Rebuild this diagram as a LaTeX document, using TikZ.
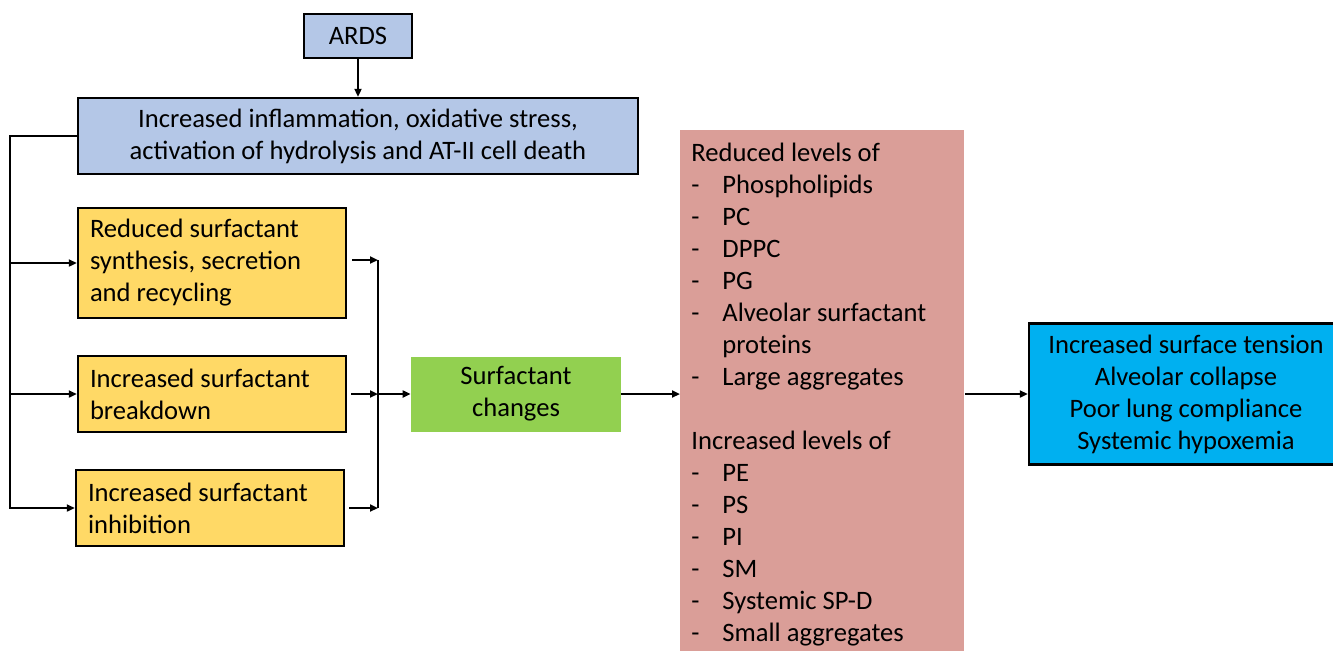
\documentclass[tikz,border=0pt]{standalone}
\usepackage{fontspec}
\setmainfont{Carlito}
\usetikzlibrary{arrows.meta}

\definecolor{ardsblue}{HTML}{B4C7E7}
\definecolor{mechyellow}{HTML}{FFD966}
\definecolor{changegreen}{HTML}{92D050}
\definecolor{levelpink}{HTML}{DA9E98}
\definecolor{outcyan}{HTML}{00B0F0}

\newcommand{\lvl}{\makebox[15.5pt][l]{-}}
\newcommand{\lvlcont}{\makebox[15.5pt]{}}

\begin{document}
\begin{tikzpicture}[x = 0.5pt, y = -0.5pt,
		every node/.style = {font=\fontsize{13.3}{16}\selectfont},
		box/.style = {draw, line width=1.2pt, inner sep=0pt, align=center},
		mech/.style = {box, fill=mechyellow, align=flush left, inner xsep=6pt, text width=122pt, minimum height=38pt},
		arr/.style = {line width=1pt, -{Triangle[length=4pt, width=3.5pt]}},
		line/.style = {line width=1pt}]
		\clip (0,0) rectangle (1333,650);
		\node [box, fill=ardsblue, minimum width=54pt, minimum height=22pt] (ards) at (358,36) {ARDS};
		\node [box, fill=ardsblue, minimum width=280pt, minimum height=38pt] (infl) at (358,136) {Increased inflammation, oxidative stress,\\activation of hydrolysis and AT-II cell death};
		\node [mech, minimum height=55pt] (y1) at (212,263) {Reduced surfactant\\synthesis, secretion\\and recycling};
		\node [mech] (y2) at (212,394) {Increased surfactant\\breakdown};
		\node [mech] (y3) at (210,508) {Increased surfactant\\inhibition};
		\node [fill=changegreen, inner sep=0pt, align=center, minimum width=105pt, minimum height=37.5pt] (chg) at (516,394) {Surfactant\\changes};
		\node [fill=levelpink, anchor=north west, align=flush left, inner xsep=5.5pt, inner ysep=6.5pt, text width=131pt] (lvls) at (680,130) {Reduced levels of\\
			\lvl Phospholipids\\
			\lvl PC\\
			\lvl DPPC\\
			\lvl PG\\
			\lvl Alveolar surfactant\\
			\lvlcont proteins\\
			\lvl Large aggregates\\[16pt]
			Increased levels of\\
			\lvl PE\\
			\lvl PS\\
			\lvl PI\\
			\lvl SM\\
			\lvl Systemic SP-D\\
			\lvl Small aggregates};
		\node [box, fill=outcyan, minimum width=157pt, minimum height=70.5pt] (out) at (1186,394) {Increased surface tension\\Alveolar collapse\\Poor lung compliance\\Systemic hypoxemia};
		% left bus
		\coordinate (lb) at (10,136);
		\draw [arr] (ards) -- (infl);
		\draw [arr] (infl.west) -- (lb) |- (y3.west);
		\draw [arr] (lb |- y1.west) -- (y1.west);
		\draw [arr] (lb |- y2.west) -- (y2.west);
		% right bus
		\coordinate (rb) at (378,260);
		\draw [arr, shorten <=2.5pt] (y1.east |- rb) -- (rb);
		\draw [line] (rb) -- (rb |- y3.east);
		\draw [arr, shorten <=2pt] (y2.east) -- (rb |- y2.east);
		\draw [arr, shorten <=2pt] (y3.east) -- (rb |- y3.east);
		\draw [arr] (rb |- y2.east) -- (chg.west);
		\draw [arr] (chg.east) -- (lvls.west |- chg.east);
		\draw [arr] (lvls.east |- out.west) -- (out.west);
	\end{tikzpicture}
\end{document}
